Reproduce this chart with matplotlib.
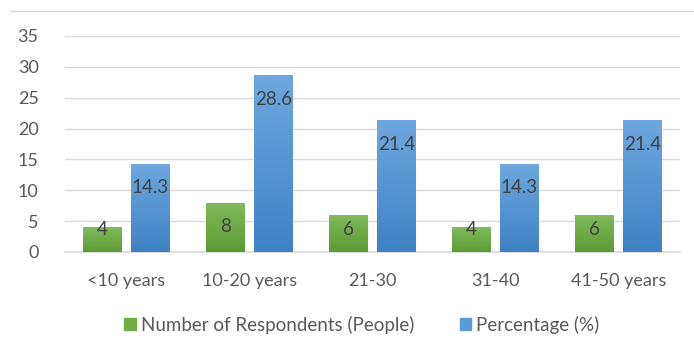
import matplotlib.pyplot as plt
import numpy as np
from matplotlib.colors import LinearSegmentedColormap
from matplotlib.lines import Line2D
from matplotlib.patches import Patch

categories = ["<10 years", "10-20 years", "21-30", "31-40", "41-50 years"]
respondents = [4, 8, 6, 4, 6]
percentage = [14.3, 28.6, 21.4, 14.3, 21.4]
series_names = ["Number of Respondents (People)", "Percentage (%)"]

GREEN = ("#80bb5c", "#5d9a33")
BLUE = ("#6ea8df", "#3e82c4")
TEXT = "#595959"
LABEL = "#404040"

plt.rcParams["font.family"] = ["Lato", "DejaVu Sans"]

fig = plt.figure(figsize=(6.94, 3.5), dpi=100)
ax = fig.add_axes([65 / 694, 1 - 252 / 350, 615 / 694, 216 / 350])

x = np.arange(len(categories))
width = 0.317
gap = 0.07


def gradient_bars(xs, values, colors):
    bars = ax.bar(xs, values, width, color=colors[1], zorder=2, linewidth=0)
    cmap = LinearSegmentedColormap.from_list("g", [colors[1], colors[0]])
    grad = np.linspace(0, 1, 256).reshape(-1, 1)
    for b in bars:
        x0, y0 = b.get_x(), b.get_y()
        w, h = b.get_width(), b.get_height()
        im = ax.imshow(grad, cmap=cmap, aspect="auto", origin="lower",
                       extent=(x0, x0 + w, y0, y0 + h), zorder=3)
        im.set_clip_path(b)
    return bars


xs_g = x - (width + gap) / 2
xs_b = x + (width + gap) / 2
gradient_bars(xs_g, respondents, GREEN)
gradient_bars(xs_b, percentage, BLUE)

# data labels sit just inside the top of each bar, never below ~3.6
for xs, vals in ((xs_g, respondents), (xs_b, percentage)):
    for xi, v in zip(xs, vals):
        y = max(v - 3.9, 3.6)
        ax.text(xi, y, f"{v:g}", ha="center", va="center", fontsize=13.5,
                color=LABEL, zorder=4)

ax.set_xlim(-0.5, len(categories) - 0.5)
ax.set_ylim(0, 35)
ax.set_yticks(range(0, 36, 5))
ax.set_xticks(x)
ax.set_xticklabels(categories)
ax.tick_params(axis="both", length=0, labelsize=13, colors=TEXT)
ax.tick_params(axis="x", pad=15)
ax.tick_params(axis="y", pad=19)
for lbl in ax.get_yticklabels():
    lbl.set_horizontalalignment("right")

ax.grid(axis="y", color="#d9d9d9", linewidth=1, zorder=0)
ax.set_axisbelow(True)
for side in ("top", "right", "left"):
    ax.spines[side].set_visible(False)
ax.spines["bottom"].set_color("#d9d9d9")
ax.spines["bottom"].set_linewidth(1.2)

# chart frame edge along the top
fig.add_artist(Line2D([10 / 694, 1], [1 - 11 / 350, 1 - 11 / 350],
                      color="#d9d9d9", linewidth=1))

handles = [Patch(color="#70ad47"), Patch(color="#5b9bd5")]
fig.legend(handles, series_names, loc="center", ncol=2,
           bbox_to_anchor=(362 / 694, 1 - 325 / 350), frameon=False,
           fontsize=13.5, labelcolor=TEXT, handlelength=0.6, handleheight=0.6,
           handletextpad=0.3, columnspacing=2.4)

fig.savefig("out.png", dpi=100)
